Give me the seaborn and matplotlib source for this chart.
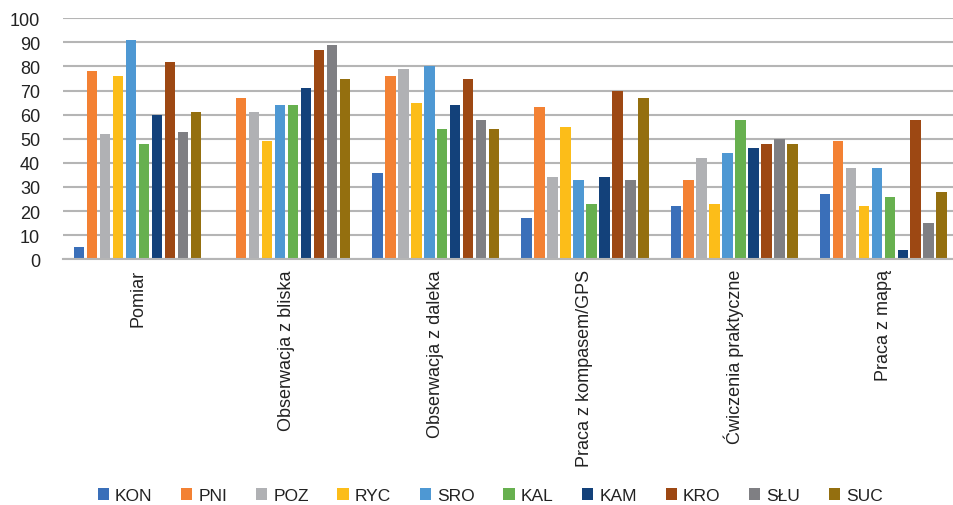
import matplotlib
matplotlib.use("Agg")
import matplotlib.pyplot as plt
import seaborn as sns
import pandas as pd

# Categories of activity (x axis)
categories = ["Pomiar", "Obserwacja z bliska", "Obserwacja z daleka",
              "Praca z kompasem/GPS", "Ćwiczenia praktyczne", "Praca z mapą"]

# Series (one per group)
series = ["KON", "PNI", "POZ", "RYC", "SRO", "KAL", "KAM", "KRO", "SŁU", "SUC"]

kon = [5, 0, 36, 17, 22, 27]
pni = [78, 67, 76, 63, 33, 49]
poz = [52, 61, 79, 34, 42, 38]
ryc = [76, 49, 65, 55, 23, 22]
sro = [91, 64, 80, 33, 44, 38]
kal = [48, 64, 54, 23, 58, 26]
kam = [60, 71, 64, 34, 46, 4]
kro = [82, 87, 75, 70, 48, 58]
slu = [53, 89, 58, 33, 50, 15]
suc = [61, 75, 54, 67, 48, 28]

yticks = [0, 10, 20, 30, 40, 50, 60, 70, 80, 90, 100]

colors = ["#3a6fb9", "#f38133", "#b0b1b4", "#fcbd19", "#4e98d3",
          "#67b04f", "#13417a", "#9d4813", "#7f7f83", "#946f0f"]

values = [kon, pni, poz, ryc, sro, kal, kam, kro, slu, suc]
rows = []
for name, vals in zip(series, values):
    for cat, v in zip(categories, vals):
        rows.append({"kategoria": cat, "seria": name, "wartosc": v})
df = pd.DataFrame(rows)

sns.set_style("white")
plt.rcParams["font.family"] = ["Liberation Sans", "DejaVu Sans"]

fig = plt.figure(figsize=(9.54, 5.06), dpi=100)
ax = fig.add_axes([0.066, 0.4856, 0.938, 0.4763])

sns.barplot(data=df, x="kategoria", y="wartosc", hue="seria",
            order=categories, hue_order=series, palette=colors,
            saturation=1, width=0.87, gap=0.2, errorbar=None, linewidth=0,
            ax=ax)

ax.set_xlim(-0.5, len(categories) - 0.5)
ax.set_ylim(0, 100)
ax.set_yticks(yticks)
ax.set_yticklabels([str(t) for t in yticks], fontsize=13, color="#222222")
ax.yaxis.grid(True, color="#b5b5b5", linewidth=1.5)
ax.set_axisbelow(True)
ax.tick_params(axis="y", length=0, pad=16.5)
ax.tick_params(axis="x", length=0, pad=7)
ax.set_xticks(range(len(categories)))
ax.set_xticklabels(categories, rotation=90, fontsize=13, color="#222222",
                   ha="center", va="top")
ax.set_xlabel("")
ax.set_ylabel("")
for side in ["left", "right", "top"]:
    ax.spines[side].set_visible(False)
ax.spines["bottom"].set_color("#b5b5b5")
ax.spines["bottom"].set_linewidth(1.5)

handles, labels = ax.get_legend_handles_labels()
ax.legend_.remove()
fig.legend(handles, labels, loc="lower center", bbox_to_anchor=(0.514, -0.027),
           ncol=len(series), frameon=False, fontsize=12.5,
           handlelength=0.65, handleheight=0.65, handletextpad=0.35,
           columnspacing=1.65, labelcolor="#222222")

fig.savefig("out.png", dpi=100)
